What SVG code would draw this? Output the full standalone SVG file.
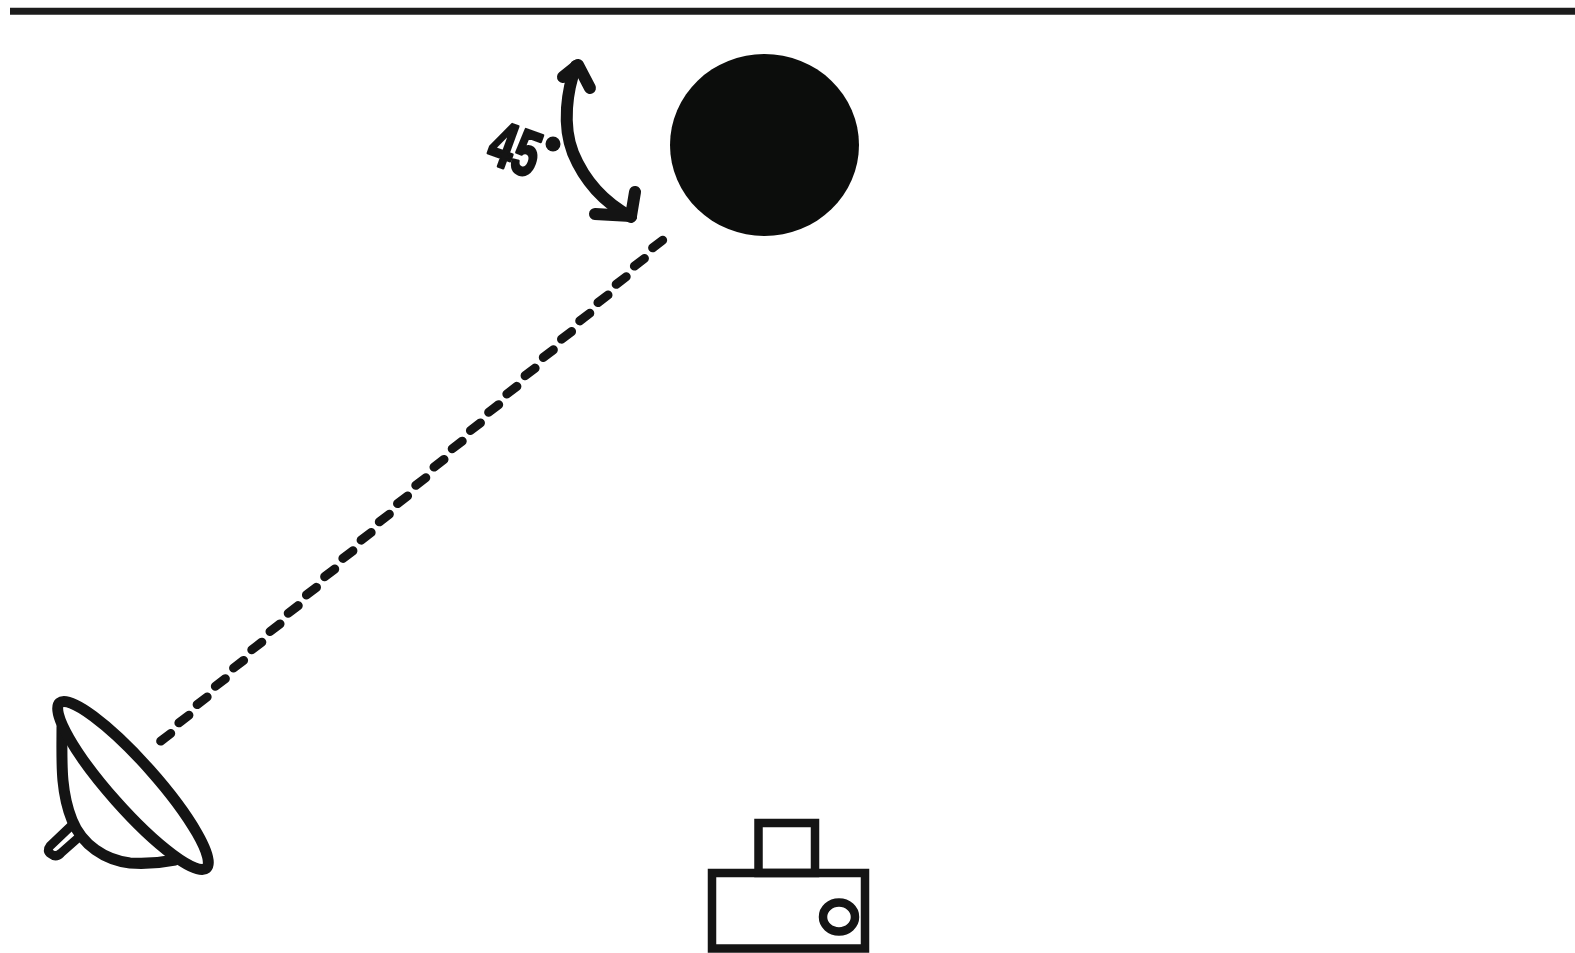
<svg xmlns="http://www.w3.org/2000/svg" width="1575" height="953" viewBox="0 0 1575 953">
<style>
.s{fill:none;stroke:#141414;stroke-linecap:round;stroke-linejoin:round}
.m{stroke-linejoin:miter;stroke-linecap:butt}
</style>
<rect width="1575" height="953" fill="#fff"/>
<g id="backdrop-line"><line x1="10" y1="11.300" x2="1575" y2="11.300" stroke="#1c1c1c" stroke-width="7"/></g>
<g id="subject"><ellipse cx="764.500" cy="145" rx="94.500" ry="91" fill="#0c0d0c"/></g>
<g id="connectors">
<path id="light-axis" class="s" stroke-width="9" d="M160.700 741.100l10 -7.600
m8.220 -10.670 l10 -7.600 m8.220 -10.670 l10 -7.600 m8.220 -10.670 l10 -7.600 m8.220 -10.670 l10 -7.600 m8.220 -10.670 l10 -7.600 m8.220 -10.670 l10 -7.600 m8.220 -10.670 l10 -7.600 m8.220 -10.670 l10 -7.600 m8.220 -10.670 l10 -7.600
m8.220 -10.670 l10 -7.600 m8.220 -10.670 l10 -7.600 m8.220 -10.670 l10 -7.600 m8.220 -10.670 l10 -7.600 m8.220 -10.670 l10 -7.600 m8.220 -10.670 l10 -7.600 m8.220 -10.670 l10 -7.600 m8.220 -10.670 l10 -7.600 m8.220 -10.670 l10 -7.600
m8.220 -10.670 l10 -7.600 m8.220 -10.670 l10 -7.600 m8.220 -10.670 l10 -7.600 m8.220 -10.670 l10 -7.600 m8.220 -10.670 l10 -7.600 m8.220 -10.670 l10 -7.600 m8.220 -10.670 l10 -7.600 m8.220 -10.670 l10 -7.600 m8.220 -10.670 l10 -7.600"/>
<g id="angle-arrow">
<path class="s" stroke-width="12" d="M576 66C567 90 562 125 573 153C585 182 605 203 631 217"/>
<path class="s" stroke-width="12" d="M563 77L578 65L590 88"/>
<path class="s" stroke-width="12" d="M635 192L631 216L595 214"/>
</g>
</g>
<g id="angle-label">
<text transform="translate(484 161) rotate(20)" font-family="'Liberation Sans',sans-serif" font-size="64" font-weight="700" fill="#141414" stroke="#141414" stroke-width="3" stroke-linejoin="round" textLength="50" lengthAdjust="spacingAndGlyphs">45</text>
<circle cx="553" cy="144" r="7.500" fill="#141414"/>
</g>
<g id="light">
<path class="s" stroke-width="9" fill="#fff" d="M71 826L50 846Q46 851 51 854Q56 858 61 853L78 838"/>
<path class="s" stroke-width="11" d="M62 727C62 760 60 790 72 820C82 845 105 860 130 863C145 864 160 863 175 860"/>
<ellipse class="s" stroke-width="11" cx="133" cy="785.500" rx="110.500" ry="23" transform="rotate(48.400 133 785.500)"/>
</g>
<g id="camera">
<rect class="s m" stroke-width="8.500" x="758.500" y="823" width="56.500" height="50"/>
<rect class="s m" stroke-width="8.500" x="712" y="873" width="153" height="75.500"/>
<ellipse class="s" stroke-width="8.500" cx="839" cy="917" rx="16" ry="14.500"/>
</g>
</svg>
